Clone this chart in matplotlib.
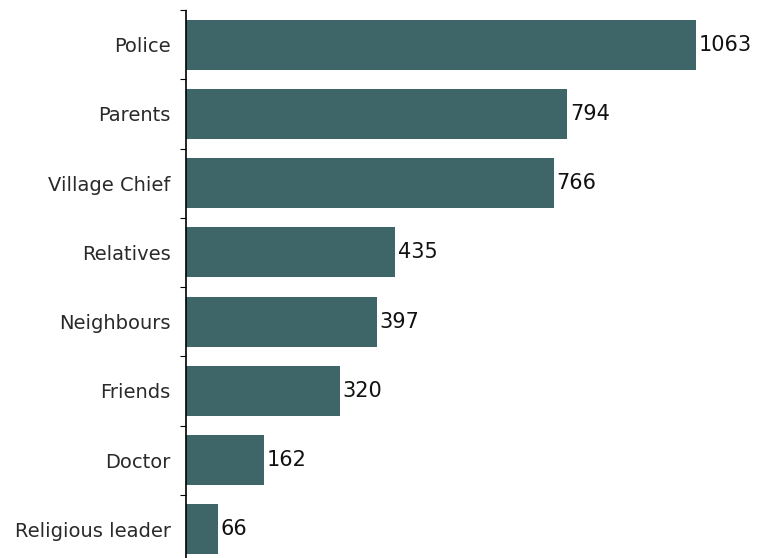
import matplotlib.pyplot as plt

# Who the cases were reported to
categories = ['Police', 'Parents', 'Village Chief', 'Relatives',
              'Neighbours', 'Friends', 'Doctor', 'Religious leader']
counts = [1063, 794, 766, 435, 397, 320, 162, 66]

bar_color = '#3e6669'

fig = plt.figure(figsize=(7.61, 5.58), dpi=100)
ax = fig.add_axes([186 / 761, -6 / 558, 575 / 761, 554 / 558])

ypos = list(range(len(categories)))
ax.barh(ypos, counts, height=0.72, color=bar_color)

# value labels right of each bar
for y, v in zip(ypos, counts):
    ax.text(v + 6, y, str(v), va='center', ha='left',
            fontsize=15, family='DejaVu Sans', color='#111111')

ax.set_xlim(0, 1198)
ax.set_ylim(len(categories) - 0.5, -0.5)

# ticks sit between the bars, labels at the bar centres
ax.set_yticks([i - 0.5 for i in range(len(categories) + 1)])
ax.set_yticklabels([])
ax.set_yticks(ypos, minor=True)
ax.set_yticklabels(categories, minor=True, fontsize=14,
                   family='DejaVu Sans', color='#2a2a2a')
ax.tick_params(axis='y', which='major', length=4, width=0.8, direction='out')
ax.tick_params(axis='y', which='minor', length=0, pad=11)

ax.set_xticks([])
for side in ['top', 'right', 'bottom']:
    ax.spines[side].set_visible(False)
ax.spines['left'].set_linewidth(1.2)
ax.spines['left'].set_linestyle((0, (1, 1)))

fig.savefig('out.png', dpi=100)
